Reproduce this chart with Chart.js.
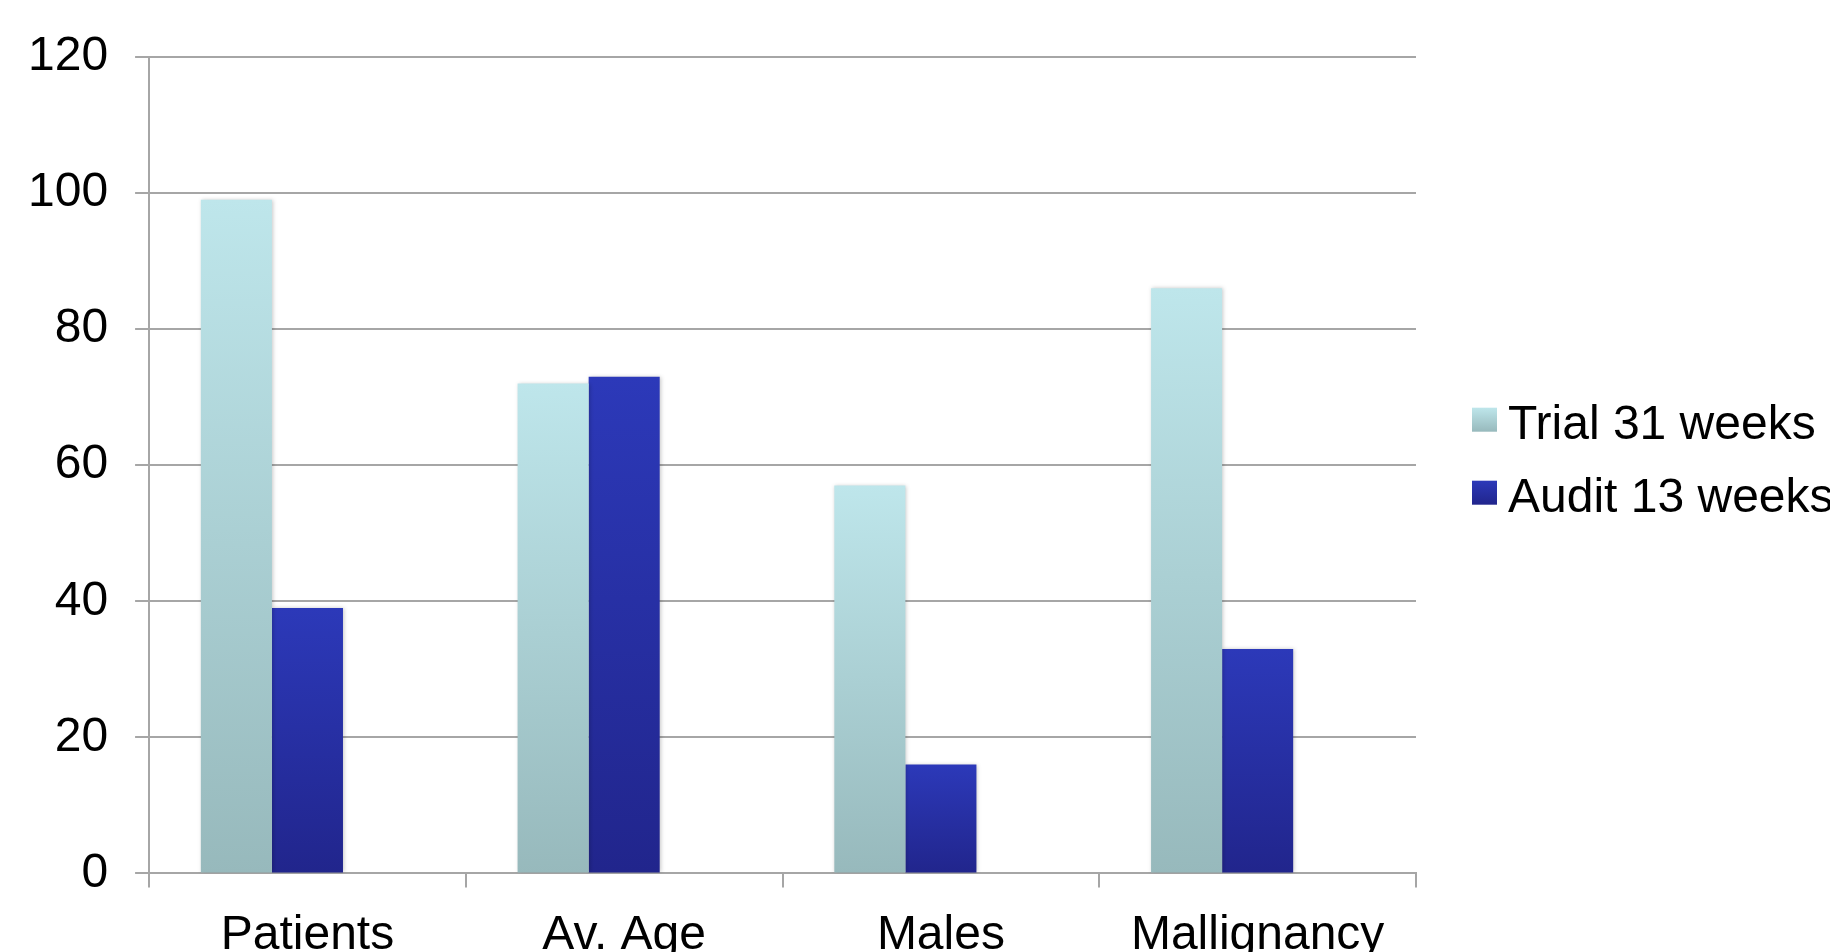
<!DOCTYPE html>
<html>
<head>
<meta charset="utf-8">
<script src="https://cdn.jsdelivr.net/npm/chart.js@4/dist/chart.umd.min.js"></script>
<style>
  html, body { margin: 0; padding: 0; background: #fff; overflow: hidden; }
  #wrap { position: relative; width: 1830px; height: 1000px; }
</style>
</head>
<body>
<div id="wrap"><canvas id="chart" width="1830" height="1000"></canvas></div>
<script>
// Categories and series values
const categories = ['Patients', 'Av. Age', 'Males', 'Mallignancy'];
const trialWeeks31 = [99, 72, 57, 86];
const auditWeeks13 = [39, 73, 16, 33];
const seriesLabels = ['Trial 31 weeks', 'Audit 13 weeks'];
const yTickValues = [0, 20, 40, 60, 80, 100, 120];

// Vertical gradient stops (top, bottom) for each series
const trialColors = ['#BEE6EB', '#97B9BC'];
const auditColors = ['#2C39B9', '#21258C'];

const FONT = '"Liberation Sans", Arial, Helvetica, sans-serif';
const FONT_SIZE = 48;
const GRID = '#A6A6A6';

// Each bar gets its own gradient running from its top down to the baseline
function barGradient(stops) {
  return (c) => {
    const chart = c.chart;
    if (!chart.chartArea || c.raw === undefined || c.raw === null) return stops[1];
    const y = chart.scales.y;
    const top = y.getPixelForValue(c.raw);
    const base = y.getPixelForValue(0);
    const g = chart.ctx.createLinearGradient(0, top, 0, base);
    g.addColorStop(0, stops[0]);
    g.addColorStop(1, stops[1]);
    return g;
  };
}

// Soft shadow under the bars
const barShadow = {
  id: 'barShadow',
  beforeDatasetsDraw(chart) {
    const ctx = chart.ctx;
    ctx.save();
    ctx.shadowColor = 'rgba(0,0,0,0.22)';
    ctx.shadowBlur = 4;
    ctx.shadowOffsetX = 1;
  },
  afterDatasetsDraw(chart) {
    chart.ctx.restore();
  }
};

// Legend to the right of the plot, vertically centred on it
const sideLegend = {
  id: 'sideLegend',
  afterDraw(chart) {
    const { ctx, chartArea } = chart;
    const x0 = chartArea.right + 56;
    const mid = (chartArea.top + chartArea.bottom) / 2;
    const rowGap = 73;
    const stopsList = [trialColors, auditColors];
    ctx.save();
    ctx.font = FONT_SIZE + 'px ' + FONT;
    ctx.textBaseline = 'middle';
    ctx.textAlign = 'left';
    chart.data.datasets.filter(ds => ds.label).forEach((ds, i) => {
      const cy = mid - rowGap / 2 - 3 + i * rowGap;
      const bx = x0, by = cy - 18, bw = 25, bh = 24;
      const g = ctx.createLinearGradient(0, by, 0, by + bh);
      g.addColorStop(0, stopsList[i][0]);
      g.addColorStop(1, stopsList[i][1]);
      ctx.fillStyle = g;
      ctx.fillRect(bx, by, bw, bh);
      ctx.fillStyle = '#000';
      ctx.fillText(ds.label, bx + bw + 11, cy);
    });
    ctx.restore();
  }
};

new Chart(document.getElementById('chart'), {
  type: 'bar',
  data: {
    labels: categories,
    datasets: [
      { label: seriesLabels[0], data: trialWeeks31, backgroundColor: barGradient(trialColors), borderWidth: 0 },
      { label: seriesLabels[1], data: auditWeeks13, backgroundColor: barGradient(auditColors), borderWidth: 0 },
      // an empty third slot in each group keeps the pair left of the category centre
      { label: '', data: [], backgroundColor: 'rgba(0,0,0,0)', borderWidth: 0 }
    ]
  },
  options: {
    responsive: false,
    devicePixelRatio: 1,
    animation: false,
    layout: { padding: { left: 1, right: 414, top: 57, bottom: 15 } },
    datasets: { bar: { categoryPercentage: 0.673, barPercentage: 1.0 } },
    plugins: { legend: { display: false }, tooltip: { enabled: false } },
    scales: {
      x: {
        grid: { display: true, drawOnChartArea: false, drawTicks: true, tickLength: 14, color: GRID, lineWidth: 2, offset: true },
        border: { display: true, color: GRID, width: 2 },
        ticks: { color: '#000', font: { family: FONT, size: FONT_SIZE }, padding: 20, maxRotation: 0, autoSkip: false }
      },
      y: {
        min: 0,
        max: 120,
        afterBuildTicks(scale) { scale.ticks = yTickValues.map(v => ({ value: v })); },
        grid: { color: GRID, lineWidth: 2, drawTicks: true, tickLength: 14 },
        border: { display: true, color: GRID, width: 2 },
        ticks: { color: '#000', font: { family: FONT, size: FONT_SIZE }, padding: 27 }
      }
    }
  },
  plugins: [barShadow, sideLegend]
});
</script>
</body>
</html>
